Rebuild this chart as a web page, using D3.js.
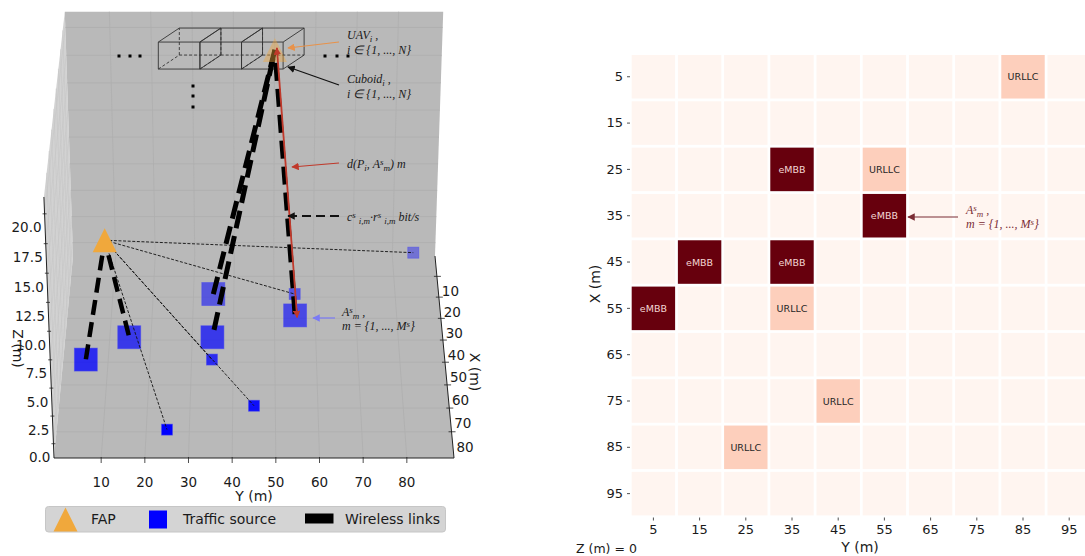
<!DOCTYPE html>
<html>
<head>
<meta charset="utf-8">
<script src="https://cdn.jsdelivr.net/npm/d3@7"></script>
<style>
  body { margin: 0; background: #fff; overflow: hidden; }
  svg { display: block; }
  text { font-family: "DejaVu Sans", sans-serif; fill: #1a1a1a; }
  .note { font-family: "Liberation Serif", serif; font-style: italic; font-size: 12px; }
</style>
</head>
<body>
<svg id="chart" width="1085" height="556"></svg>
<script>
// values
const cellValues = [5, 15, 25, 35, 45, 55, 65, 75, 85, 95];
const embbSources = [[55, 5], [45, 15], [45, 35], [25, 35], [35, 55]];   // [X, Y]
const urllcSources = [[85, 25], [75, 45], [55, 35], [25, 55], [5, 85]];  // [X, Y]
const fapPos = [50, 10, 9.9];   // X, Y, Z
const uavPos = [12, 50, 20];
const uavLinks = [[45, 35], [25, 35], [35, 55]];
const fapLinks = [[55, 5], [45, 15]];
const cuboidStarts = [22, 32, 42];
const cuboidSpan = 10;
const cuboidBase = [12, 18.3];  // X, Z

const zTicks = [0, 2.5, 5, 7.5, 10, 12.5, 15, 17.5, 20];
const xTicks = [10, 20, 30, 40, 50, 60, 70, 80];
const yTicks = [10, 20, 30, 40, 50, 60, 70, 80];

const svg = d3.select('#chart');

// ---- heatmap
const heatX = d3.scaleBand().domain(cellValues).range([630.3, 1092.3]).paddingInner(0.06).paddingOuter(0.03);
const heatY = d3.scaleBand().domain(cellValues).range([53.6, 516.8]).paddingInner(0.06).paddingOuter(0.03);
const cellLevel = new Map();
urllcSources.forEach(d => cellLevel.set(d.join(), 0.18));
embbSources.forEach(d => cellLevel.set(d.join(), 1));

const cells = d3.cross(cellValues, cellValues).map(([x, y]) => ({ x, y, level: cellLevel.get(`${x},${y}`) || 0 }));
const heat = svg.append('g');
heat.selectAll('rect').data(cells).join('rect')
  .attr('x', d => heatX(d.y)).attr('y', d => heatY(d.x))
  .attr('width', heatX.bandwidth()).attr('height', heatY.bandwidth())
  .attr('fill', d => d3.interpolateReds(d.level));
heat.selectAll('text').data(cells.filter(d => d.level > 0)).join('text')
  .attr('x', d => heatX(d.y) + heatX.bandwidth() / 2)
  .attr('y', d => heatY(d.x) + heatY.bandwidth() / 2 + 3.5)
  .attr('text-anchor', 'middle').attr('font-size', 9.5)
  .style('fill', d => d.level === 1 ? '#f3d6d4' : '#262626')
  .text(d => d.level === 1 ? 'eMBB' : 'URLLC');

const bottomAxis = svg.append('g').attr('transform', 'translate(0,517.5)')
  .call(d3.axisBottom(heatX).tickSize(3).tickPadding(4));
const leftAxis = svg.append('g').attr('transform', 'translate(630,0)')
  .call(d3.axisLeft(heatY).tickSize(3).tickPadding(4));
[bottomAxis, leftAxis].forEach(a => {
  a.select('.domain').remove();
  a.selectAll('text').attr('font-size', 13).style('font-family', '"DejaVu Sans", sans-serif').style('fill', '#1a1a1a');
  a.selectAll('line').attr('stroke', '#222').attr('stroke-width', 0.8);
});
svg.append('text').attr('x', 860).attr('y', 552).attr('text-anchor', 'middle').attr('font-size', 14).text('Y (m)');
svg.append('text').attr('transform', 'translate(600,284) rotate(-90)').attr('text-anchor', 'middle').attr('font-size', 14).text('X (m)');
svg.append('text').attr('x', 576).attr('y', 553).attr('font-size', 12.5).text('Z (m) = 0');

// ---- 3D panel: small perspective camera built on linear scales
const xMax = 90.8, yMin = -0.8, yMax = 90.8, zMin = -1.3, zMax = 21.4;
const yPos = d3.scaleLinear().domain([yMin, yMax]).range([54, 454]);
const xRise = d3.scaleLinear().domain([xMax, 0]).range([0, 223.2]);
const zRise = d3.scaleLinear().domain([zMin, zMax]).range([0, 248.5]);
const xDepth = d3.scaleLinear().domain([xMax, 0]).range([0, 0.105]);
const zDepth = d3.scaleLinear().domain([zMin, zMax]).range([0, -0.048]);

const project = (x, y, z) => {
  const w = 1 + xDepth(x) + zDepth(z);
  return [254 + (yPos(y) - 254) / w, 458 - (xRise(x) + zRise(z)) / w];
};
const line3d = d3.line();
const quad = pts => line3d(pts.map(p => project(...p))) + 'Z';

const panel = svg.append('g').attr('class', 'panel3d');

// panes
panel.append('path')
  .attr('d', quad([[0, yMin, zMin], [xMax, yMin, zMin], [xMax, yMin, zMax], [0, yMin, zMax]]))
  .attr('fill', '#d2d2d2');
panel.append('path')
  .attr('d', quad([[0, yMin, zMin], [0, yMax, zMin], [0, yMax, zMax], [0, yMin, zMax]]))
  .attr('fill', '#b9b9b9');
panel.append('path')
  .attr('d', quad([[0, yMin, zMin], [0, yMax, zMin], [xMax, yMax, zMin], [xMax, yMin, zMin]]))
  .attr('fill', '#b9b9b9');

// grid
const gridSegs = [];
const sideSegs = [];
yTicks.forEach(y => {
  gridSegs.push([[xMax, y, zMin], [0, y, zMin]]);
  gridSegs.push([[0, y, zMin], [0, y, zMax]]);
});
xTicks.forEach(x => {
  gridSegs.push([[x, yMin, zMin], [x, yMax, zMin]]);
  sideSegs.push([[x, yMin, zMin], [x, yMin, zMax]]);
});
zTicks.forEach(z => {
  gridSegs.push([[0, yMin, z], [0, yMax, z]]);
  sideSegs.push([[0, yMin, z], [xMax, yMin, z]]);
});
panel.append('g').selectAll('path').data(sideSegs).join('path')
  .attr('d', d => line3d(d.map(p => project(...p))))
  .attr('fill', 'none').attr('stroke', '#c6c6c6').attr('stroke-width', 0.6);
panel.append('g').selectAll('path').data(gridSegs).join('path')
  .attr('d', d => line3d(d.map(p => project(...p))))
  .attr('fill', 'none').attr('stroke', '#aeaeae').attr('stroke-width', 0.8);

// axis lines
const axisSegs = [
  [[xMax, yMin, zMin], [xMax, yMin, zMax]],
  [[xMax, yMin, zMin], [xMax, yMax, zMin]],
  [[0, yMax, zMin], [xMax, yMax, zMin]]
];
panel.append('g').selectAll('path').data(axisSegs).join('path')
  .attr('d', d => line3d(d.map(p => project(...p))))
  .attr('fill', 'none').attr('stroke', '#222').attr('stroke-width', 1);

// y ticks
const yAxisG = panel.append('g');
yAxisG.selectAll('line').data(yTicks).join('line')
  .attr('x1', d => yPos(d)).attr('x2', d => yPos(d))
  .attr('y1', 457).attr('y2', 463)
  .attr('stroke', '#222').attr('stroke-width', 0.8);
yAxisG.selectAll('text').data(yTicks).join('text')
  .attr('x', d => yPos(d)).attr('y', 487)
  .attr('text-anchor', 'middle').attr('font-size', 13.5).text(d => d);
panel.append('text').attr('x', 254).attr('y', 501)
  .attr('text-anchor', 'middle').attr('font-size', 14).text('Y (m)');

// x ticks
const xAxisG = panel.append('g');
xAxisG.selectAll('line').data(xTicks).join('line')
  .attr('x1', d => project(d, yMax, zMin)[0] - 3).attr('x2', d => project(d, yMax, zMin)[0] + 4)
  .attr('y1', d => project(d, yMax, zMin)[1]).attr('y2', d => project(d, yMax, zMin)[1])
  .attr('stroke', '#222').attr('stroke-width', 0.8);
xAxisG.selectAll('text').data(xTicks).join('text')
  .attr('x', d => project(d, yMax, zMin)[0] + 13.5)
  .attr('y', d => project(d, yMax, zMin)[1] + 20)
  .attr('text-anchor', 'middle').attr('font-size', 13.5).text(d => d);
panel.append('text').attr('transform', 'translate(470,372) rotate(90)')
  .attr('text-anchor', 'middle').attr('font-size', 14).text('X (m)');

// z ticks
const zAxisG = panel.append('g');
zAxisG.selectAll('line').data(zTicks).join('line')
  .attr('x1', d => project(xMax, yMin, d)[0] - 2).attr('x2', d => project(xMax, yMin, d)[0] + 2)
  .attr('y1', d => project(xMax, yMin, d)[1]).attr('y2', d => project(xMax, yMin, d)[1])
  .attr('stroke', '#222').attr('stroke-width', 0.8);
zAxisG.selectAll('text').data(zTicks).join('text')
  .attr('x', d => project(xMax, yMin, d)[0] - 3)
  .attr('y', d => project(xMax, yMin, d)[1] + 18.5)
  .attr('text-anchor', 'end').attr('font-size', 13.5).text(d => d.toFixed(1));
panel.append('text').attr('transform', 'translate(13,348.5) rotate(90)')
  .attr('text-anchor', 'middle').attr('font-size', 14).text('Z (m)');

// traffic sources
const shade = d3.scaleLinear().domain([5, 85]).range([0.38, 1]);
const squares = panel.append('g');
const drawSquares = (rows, size) => squares.append('g').selectAll('rect').data(rows).join('rect')
  .attr('x', d => project(d[0], d[1], 0)[0] - size / 2)
  .attr('y', d => project(d[0], d[1], 0)[1] - size / 2)
  .attr('width', size).attr('height', size)
  .attr('fill', '#0000ff').attr('fill-opacity', d => shade(d[0]))
  .attr('stroke', '#4a4af0').attr('stroke-opacity', 0.6).attr('stroke-width', 0.8);
drawSquares(embbSources, 23);
drawSquares(urllcSources, 11);

// cuboids, an oblique overlay at the UAV level
const cubeH = 27, cubeOffX = 21, cubeOffY = 14;
const cubes = panel.append('g').attr('fill', 'none').attr('stroke', '#333').attr('stroke-width', 0.9);
cuboidStarts.forEach(y0 => {
  const [x, y] = project(cuboidBase[0], y0, cuboidBase[1]);
  const cubeW = project(cuboidBase[0], y0 + cuboidSpan, cuboidBase[1])[0] - x;
  const solid = `M${x},${y}h${cubeW}v${-cubeH}h${-cubeW}Z`
    + `M${x},${y - cubeH}l${cubeOffX},${-cubeOffY}h${cubeW}l${-cubeOffX},${cubeOffY}`
    + `M${x + cubeW},${y}l${cubeOffX},${-cubeOffY}v${-cubeH}`;
  cubes.append('path').attr('d', solid);
  cubes.append('path').attr('stroke-dasharray', '3,2')
    .attr('d', `M${x},${y}l${cubeOffX},${-cubeOffY}h${cubeW}M${x + cubeOffX},${y - cubeOffY}v${-cubeH}`);
});

// links
const links = panel.append('g').attr('fill', 'none');
links.selectAll('.thin').data(urllcSources).join('path')
  .attr('class', 'thin')
  .attr('d', d => line3d([project(...fapPos), project(d[0], d[1], 0)]))
  .attr('stroke', '#111').attr('stroke-width', 0.9).attr('stroke-dasharray', '3,1.6');
links.selectAll('.fap').data(fapLinks).join('path')
  .attr('class', 'fap')
  .attr('d', d => line3d([project(...fapPos), project(d[0], d[1], 0)]))
  .attr('stroke', '#000').attr('stroke-width', 4.5)
  .attr('stroke-dasharray', '15,7.5').attr('stroke-dashoffset', 7);
const uavDashShift = [17.5, 0, 13];   // phase of each thick dashed UAV link
links.selectAll('.uav').data(uavLinks).join('path')
  .attr('class', 'uav')
  .attr('d', d => line3d([project(...uavPos), project(d[0], d[1], 0)]))
  .attr('stroke', '#000').attr('stroke-width', 5)
  .attr('stroke-dasharray', '18,8').attr('stroke-dashoffset', (d, i) => uavDashShift[i]);

// FAP and UAV triangles
const triPath = (w, h) => `M0,${-h / 2}L${w / 2},${h / 2}L${-w / 2},${h / 2}Z`;
panel.append('path').attr('d', triPath(24, 24))
  .attr('transform', `translate(${project(...fapPos)})`)
  .attr('fill', '#f0a83c');
panel.append('path').attr('d', triPath(24, 24))
  .attr('transform', `translate(${project(...uavPos)})`)
  .attr('fill', '#f0a83c').attr('fill-opacity', 0.42);

// arrowheads
const defs = svg.append('defs');
const arrowColours = { black: '#111', orange: '#e8924a', red: '#c0392b', blue: '#7a7af5', maroon: '#7b2d35' };
Object.entries(arrowColours).forEach(([k, c]) => {
  defs.append('marker').attr('id', 'arrow-' + k)
    .attr('viewBox', '0 0 10 10').attr('refX', 9).attr('refY', 5)
    .attr('markerWidth', 7.5).attr('markerHeight', 7.5).attr('markerUnits', 'userSpaceOnUse')
    .attr('orient', 'auto-start-reverse')
    .append('path').attr('d', 'M0,0L10,5L0,10Z').attr('fill', c);
});

// red distance line, a touch right of the thick link
const [ux, uy] = project(...uavPos);
const [tx, ty] = project(35, 55, 0);
panel.append('line')
  .attr('x1', ux + 2).attr('y1', uy - 2).attr('x2', tx + 2).attr('y2', ty + 2)
  .attr('stroke', arrowColours.red).attr('stroke-width', 1.8)
  .attr('marker-start', 'url(#arrow-red)').attr('marker-end', 'url(#arrow-red)');

// callout arrows
const arrows = [
  { from: [339, 42], to: [288, 48], c: 'orange' },
  { from: [339, 85], to: [288, 67], c: 'black' },
  { from: [339, 163], to: [292, 167], c: 'red' },
  { from: [339, 216], to: [288, 216], c: 'black', w: 2, dash: '9,5' },
  { from: [335, 318], to: [313, 318], c: 'blue' },
  { from: [958, 217], to: [908, 217], c: 'maroon' }
];
svg.append('g').selectAll('line').data(arrows).join('line')
  .attr('x1', d => d.from[0]).attr('y1', d => d.from[1])
  .attr('x2', d => d.to[0]).attr('y2', d => d.to[1])
  .attr('stroke', d => arrowColours[d.c])
  .attr('stroke-width', d => d.w || 1.2)
  .attr('stroke-dasharray', d => d.dash || null)
  .attr('marker-end', d => `url(#arrow-${d.c})`);

// dots ("..." marks)
const dots = [[119, 56], [130, 56], [140, 56], [325, 56], [337, 56], [348, 56], [193, 86], [193, 96], [193, 107]];
panel.append('g').selectAll('rect').data(dots).join('rect')
  .attr('x', d => d[0] - 1.5).attr('y', d => d[1] - 1.5)
  .attr('width', 3).attr('height', 3).attr('fill', '#000');

// notes with sub and superscripts: [text, 'sub' | 'sup' | undefined]
const note = (x, y, parts, colour) => {
  const t = svg.append('text').attr('class', 'note').attr('x', x).attr('y', y)
    .style('fill', colour || '#1a1a1a');
  let shift = 0;
  parts.forEach(([s, kind]) => {
    const target = kind === 'sub' ? 3 : kind === 'sup' ? -3 : 0;
    t.append('tspan').attr('dy', target - shift)
      .attr('font-size', kind ? 9 : 12).text(s);
    shift = target;
  });
};
const setI = [['i ∈ {1, ..., N}']];
note(347, 39, [['UAV'], ['i', 'sub'], [' ,']]);
note(347, 54, setI);
note(347, 83, [['Cuboid'], ['i', 'sub'], [' ,']]);
note(347, 98, setI);
note(347, 168, [['d(P'], ['i', 'sub'], [', A'], ['s', 'sup'], ['m', 'sub'], [') m']]);
note(347, 221, [['c'], ['s', 'sup'], [' '], ['i,m', 'sub'], ['·r'], ['s', 'sup'], [' '], ['i,m', 'sub'], [' bit/s']]);
note(342, 316, [['A'], ['s', 'sup'], ['m', 'sub'], [' ,']]);
note(342, 330, [['m = {1, ..., M'], ['s', 'sup'], ['}']]);
note(966, 214, [['A'], ['s', 'sup'], ['m', 'sub'], [' ,']], '#7b2d35');
note(966, 228, [['m = {1, ..., M'], ['s', 'sup'], ['}']], '#7b2d35');

// legend
const legend = svg.append('g');
legend.append('rect').attr('x', 45.5).attr('y', 506.5).attr('width', 400).attr('height', 25.5)
  .attr('rx', 3).attr('fill', '#d4d4d4').attr('stroke', '#c6c6c6');
legend.append('path').attr('d', triPath(24, 24)).attr('transform', 'translate(65.5,519.5)').attr('fill', '#f0a83c');
legend.append('rect').attr('x', 149).attr('y', 510.5).attr('width', 18).attr('height', 18).attr('fill', '#0000ff');
legend.append('rect').attr('x', 305).attr('y', 513.5).attr('width', 28.5).attr('height', 10).attr('fill', '#000');
[['FAP', 91], ['Traffic source', 183], ['Wireless links', 345]].forEach(([s, x]) => {
  legend.append('text').attr('x', x).attr('y', 524).attr('font-size', 14).text(s);
});
</script>
</body>
</html>
